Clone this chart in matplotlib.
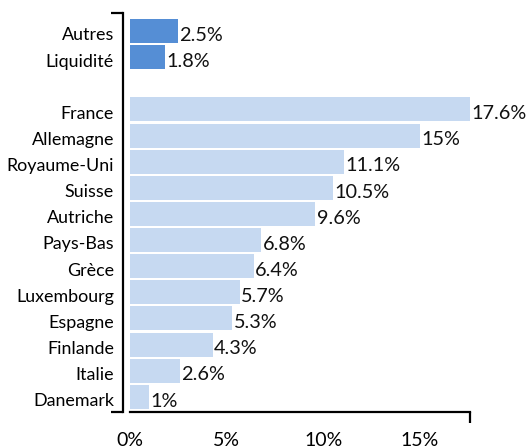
import numpy as np
import matplotlib
matplotlib.use('Agg')
import matplotlib.pyplot as plt

# données (en %)
categories = ['Autres', 'Liquidité', '', 'France', 'Allemagne', 'Royaume-Uni', 'Suisse',
              'Autriche', 'Pays-Bas', 'Grèce', 'Luxembourg', 'Espagne', 'Finlande',
              'Italie', 'Danemark']
values = [2.5, 1.8, np.nan, 17.6, 15, 11.1, 10.5, 9.6, 6.8, 6.4, 5.7, 5.3, 4.3, 2.6, 1]
groups = ['top', 'top', 'gap'] + ['pays'] * 12
xticks = [0, 5, 10, 15]
xticklabels = ['0%', '5%', '10%', '15%']

colors = {'top': '#558ED5', 'gap': 'white', 'pays': '#C6D9F1'}

plt.rcParams['font.family'] = ['Lato', 'DejaVu Sans']

fig = plt.figure(figsize=(5.29, 4.48), dpi=100)
ax = fig.add_axes([130 / 529, 36 / 448, 340 / 529, 399 / 448])

y = np.arange(len(categories))
bars = ax.barh(y, np.nan_to_num(values), height=0.92,
               color=[colors[g] for g in groups])

labels = ['' if np.isnan(v) else f'{v:g}%' for v in values]
txts = ax.bar_label(bars, labels=labels, padding=0.8, fontsize=14.3, color='#111111')
for t in txts:
    t.set_va('center_baseline')
    t.xyann = (0.8, -2)  # un peu plus bas, comme dans l'original

ax.set_xlim(0, 17.6)
ax.set_ylim(14.58, -0.69)

# ticks invisibles, légèrement décalés pour abaisser le texte
ax.set_yticks(y + 0.11, categories)
ax.set_xticks(xticks, xticklabels)

# petits crochets aux extrémités des axes
ax.set_yticks([-0.69, 14.58], minor=True)
ax.set_xticks([0, 17.6], minor=True)

ax.tick_params(axis='both', which='major', length=0, labelsize=14)
ax.tick_params(axis='y', which='major', pad=6.5, labelsize=12.9)
ax.tick_params(axis='x', which='major', pad=14.5)
ax.tick_params(which='minor', direction='out', width=1.6, color='black')
ax.tick_params(axis='y', which='minor', length=8.5)
ax.tick_params(axis='x', which='minor', length=8)
for t in ax.get_yticklabels():
    t.set_va('center_baseline')

for s in ['top', 'right']:
    ax.spines[s].set_visible(False)
ax.spines['left'].set_position(('outward', 5))
ax.spines['left'].set_linewidth(1.6)
ax.spines['bottom'].set_linewidth(1.6)

fig.savefig('out.png', dpi=100)
